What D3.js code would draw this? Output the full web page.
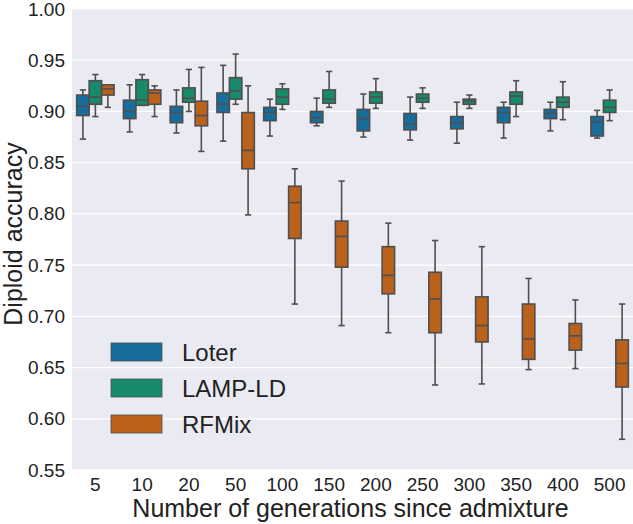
<!DOCTYPE html>
<html>
<head>
<meta charset="utf-8">
<script src="https://cdn.jsdelivr.net/npm/d3@7"></script>
<style>
  html, body { margin: 0; padding: 0; background: #fff; }
  svg { display: block; font-family: "Liberation Sans", Arial, sans-serif; }
</style>
</head>
<body>
<svg id="chart" width="633" height="524"></svg>
<script>
// Categories (generations since admixture)
const categories = ["5", "10", "20", "50", "100", "150", "200", "250", "300", "350", "400", "500"];
const methods = ["Loter", "LAMP-LD", "RFMix"];
const colors = ["#176d9c", "#168a6a", "#ba611b"];
const yTicks = [0.55, 0.60, 0.65, 0.70, 0.75, 0.80, 0.85, 0.90, 0.95, 1.00];

// Box stats per category: [whiskerLow, q1, median, q3, whiskerHigh]
const loter = [
  [0.873, 0.896, 0.905, 0.916, 0.921],
  [0.880, 0.893, 0.900, 0.911, 0.926],
  [0.879, 0.889, 0.899, 0.905, 0.921],
  [0.871, 0.899, 0.907, 0.918, 0.945],
  [0.876, 0.891, 0.899, 0.904, 0.912],
  [0.886, 0.889, 0.894, 0.900, 0.913],
  [0.875, 0.881, 0.893, 0.902, 0.917],
  [0.872, 0.882, 0.888, 0.898, 0.914],
  [0.869, 0.883, 0.889, 0.895, 0.909],
  [0.874, 0.889, 0.899, 0.904, 0.909],
  [0.881, 0.893, 0.898, 0.902, 0.909],
  [0.874, 0.876, 0.890, 0.895, 0.901]
];
const lampld = [
  [0.895, 0.907, 0.914, 0.930, 0.936],
  [0.906, 0.906, 0.911, 0.931, 0.936],
  [0.900, 0.909, 0.913, 0.923, 0.941],
  [0.907, 0.912, 0.920, 0.933, 0.956],
  [0.902, 0.907, 0.914, 0.922, 0.927],
  [0.904, 0.908, 0.912, 0.921, 0.939],
  [0.903, 0.908, 0.914, 0.919, 0.932],
  [0.903, 0.909, 0.913, 0.917, 0.923],
  [0.903, 0.907, 0.910, 0.912, 0.916],
  [0.895, 0.907, 0.915, 0.919, 0.930],
  [0.892, 0.904, 0.909, 0.914, 0.929],
  [0.891, 0.899, 0.904, 0.911, 0.921]
];
const rfmix = [
  [0.904, 0.916, 0.922, 0.926, 0.926],
  [0.895, 0.907, 0.918, 0.921, 0.925],
  [0.861, 0.886, 0.896, 0.910, 0.943],
  [0.799, 0.844, 0.862, 0.899, 0.925],
  [0.712, 0.776, 0.811, 0.827, 0.844],
  [0.691, 0.748, 0.778, 0.793, 0.832],
  [0.684, 0.722, 0.740, 0.768, 0.791],
  [0.633, 0.684, 0.717, 0.743, 0.774],
  [0.634, 0.675, 0.691, 0.719, 0.768],
  [0.648, 0.658, 0.678, 0.712, 0.737],
  [0.649, 0.667, 0.681, 0.693, 0.716],
  [0.580, 0.631, 0.654, 0.677, 0.712]
];
const seriesStats = [loter, lampld, rfmix];

const svg = d3.select("#chart");
const margin = {left: 72, right: 0, top: 9, bottom: 54};
const W = 633, H = 524;
const plotW = W - margin.left - margin.right;
const plotH = H - margin.top - margin.bottom;

const x = d3.scaleBand().domain(categories).range([margin.left, margin.left + plotW]).paddingInner(0).paddingOuter(0);
const hue = d3.scaleBand().domain(methods).range([0, x.bandwidth() * 0.8]);
const y = d3.scaleLinear().domain([0.55, 1.00]).range([margin.top + plotH, margin.top]);

const lineColor = "#4f4f4f";
const lw = 1.6;

// background
svg.append("rect").attr("x", margin.left).attr("y", margin.top)
  .attr("width", plotW).attr("height", plotH).attr("fill", "#EAEAF2");

// grid
svg.append("g").selectAll("line").data(yTicks).join("line")
  .attr("x1", margin.left).attr("x2", margin.left + plotW)
  .attr("y1", d => y(d)).attr("y2", d => y(d))
  .attr("stroke", "#fff").attr("stroke-width", 1.2);

// y axis labels
const yAxis = d3.axisLeft(y).tickValues(yTicks).tickFormat(d3.format(".2f")).tickSize(0).tickPadding(7);
const gy = svg.append("g").attr("transform", `translate(${margin.left},0)`).call(yAxis);
gy.select(".domain").remove();
gy.selectAll("text").attr("font-size", 19).attr("fill", "#222").attr("font-family", "Liberation Sans, Arial, sans-serif");

// x axis labels
const xAxis = d3.axisBottom(x).tickSize(0).tickPadding(8);
const gx = svg.append("g").attr("transform", `translate(0,${margin.top + plotH})`).call(xAxis);
gx.select(".domain").remove();
gx.selectAll("text").attr("font-size", 19).attr("fill", "#222").attr("font-family", "Liberation Sans, Arial, sans-serif");

// boxes
const boxW = hue.bandwidth();
seriesStats.forEach((stats, si) => {
  const g = svg.append("g");
  const groups = g.selectAll("g").data(stats.map((s, i) => ({s, cat: categories[i]}))).join("g")
    .attr("transform", d => `translate(${x(d.cat) + x.bandwidth() * 0.1 + hue(methods[si])},0)`);
  const cx = boxW / 2;
  // whiskers
  groups.append("line").attr("x1", cx).attr("x2", cx)
    .attr("y1", d => y(d.s[3])).attr("y2", d => y(d.s[4]))
    .attr("stroke", lineColor).attr("stroke-width", lw);
  groups.append("line").attr("x1", cx).attr("x2", cx)
    .attr("y1", d => y(d.s[1])).attr("y2", d => y(d.s[0]))
    .attr("stroke", lineColor).attr("stroke-width", lw);
  // caps
  [0, 4].forEach(k => {
    groups.append("line").attr("x1", cx - boxW / 4).attr("x2", cx + boxW / 4)
      .attr("y1", d => y(d.s[k])).attr("y2", d => y(d.s[k]))
      .attr("stroke", lineColor).attr("stroke-width", lw);
  });
  // box
  groups.append("rect").attr("x", 0).attr("width", boxW)
    .attr("y", d => y(d.s[3])).attr("height", d => y(d.s[1]) - y(d.s[3]))
    .attr("fill", colors[si]).attr("stroke", lineColor).attr("stroke-width", lw);
  // median
  groups.append("line").attr("x1", 0).attr("x2", boxW)
    .attr("y1", d => y(d.s[2])).attr("y2", d => y(d.s[2]))
    .attr("stroke", lineColor).attr("stroke-width", lw);
});

// legend
const leg = svg.append("g");
methods.forEach((m, i) => {
  const yy = 343 + i * 36;
  leg.append("rect").attr("x", 111).attr("y", yy).attr("width", 51).attr("height", 18)
    .attr("fill", colors[i]).attr("stroke", lineColor).attr("stroke-width", 0.8);
  leg.append("text").attr("x", 182).attr("y", yy + 9).attr("dy", "0.36em")
    .attr("font-size", 24).attr("fill", "#222").text(m);
});

// axis titles
svg.append("text").attr("x", margin.left + plotW / 2 - 2).attr("y", 517)
  .attr("text-anchor", "middle").attr("font-size", 25).attr("fill", "#222")
  .text("Number of generations since admixture");
svg.append("text").attr("transform", "translate(22,234) rotate(-90)")
  .attr("text-anchor", "middle").attr("font-size", 25).attr("fill", "#222")
  .text("Diploid accuracy");
</script>
</body>
</html>
